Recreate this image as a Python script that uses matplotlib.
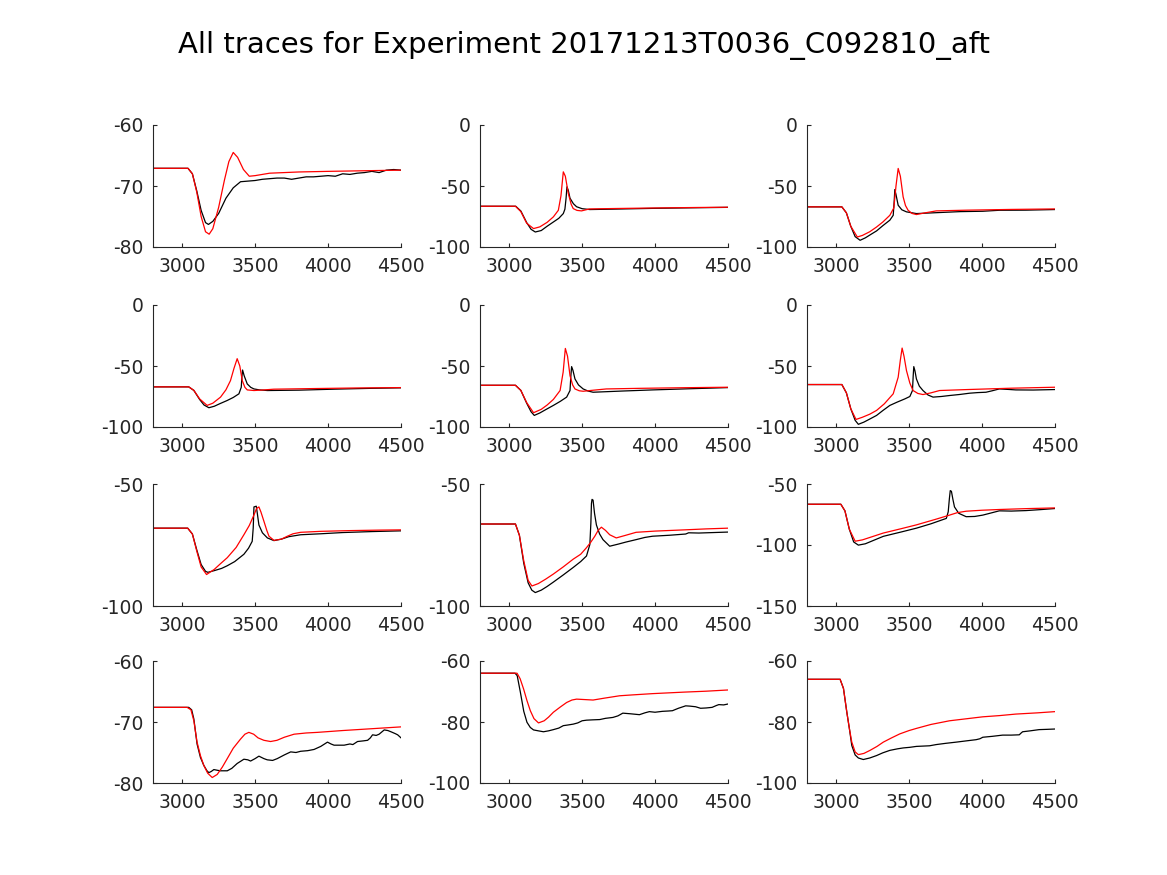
import matplotlib
matplotlib.use("Agg")
import matplotlib.pyplot as plt

title = "All traces for Experiment 20171213T0036_C092810_aft"
xlim = (2800, 4500)
xticks = [3000, 3500, 4000, 4500]

# per-panel y limits and ticks (row by row)
ylims = [(-80, -60), (-100, 0), (-100, 0),
         (-100, 0), (-100, 0), (-100, 0),
         (-100, -50), (-100, -50), (-150, -50),
         (-80, -60), (-100, -60), (-100, -60)]
yticks = [[-80, -70, -60], [-100, -50, 0], [-100, -50, 0],
          [-100, -50, 0], [-100, -50, 0], [-100, -50, 0],
          [-100, -50], [-100, -50], [-150, -100, -50],
          [-80, -70, -60], [-100, -80, -60], [-100, -80, -60]]

# recorded traces (black)
k1_x = [2800, 3040, 3070, 3100, 3130, 3160, 3180, 3210, 3250, 3300, 3350, 3400, 3450, 3500, 3550, 3600, 3650,
        3700, 3750, 3800, 3850, 3900, 4000, 4050, 4100, 4150, 4200, 4250, 4300, 4350, 4400, 4450, 4500]
k1_y = [-67.1, -67.1, -68.0, -70.8, -74.0, -76.0, -76.3, -75.8, -74.5, -72.0, -70.3, -69.3, -69.2, -69.1,
        -68.9, -68.8, -68.7, -68.7, -68.9, -68.7, -68.5, -68.5, -68.3, -68.4, -68.0, -68.1, -67.9, -67.8,
        -67.6, -67.8, -67.4, -67.3, -67.4]
k2_x = [2800, 3045, 3080, 3120, 3150, 3179, 3220, 3260, 3303, 3340, 3371, 3382, 3390, 3396, 3405, 3417, 3440,
        3462, 3500, 3553, 3700, 4000, 4300, 4500]
k2_y = [-66.6, -66.6, -70.5, -80.0, -85.5, -87.7, -86.5, -83.0, -79.5, -76.5, -72.6, -69.0, -60.0, -50.7,
        -53.5, -60.0, -64.5, -67.0, -68.6, -69.3, -69.0, -68.3, -67.8, -67.5]
k3_x = [2800, 3039, 3070, 3100, 3130, 3164, 3200, 3240, 3277, 3320, 3368, 3391, 3398, 3402, 3410, 3425, 3450,
        3482, 3550, 3700, 3850, 4005, 4118, 4300, 4500]
k3_y = [-67.1, -67.1, -72.0, -83.0, -91.5, -94.5, -92.5, -89.5, -86.8, -82.5, -78.0, -74.0, -62.0, -52.9,
        -57.0, -65.8, -69.5, -71.2, -72.6, -71.8, -71.0, -70.7, -69.9, -69.8, -69.3]
k4_x = [2800, 3045, 3080, 3120, 3150, 3183, 3220, 3260, 3308, 3350, 3389, 3405, 3410, 3414, 3425, 3446, 3470,
        3492, 3530, 3584, 3800, 4040, 4300, 4500]
k4_y = [-67.1, -67.1, -70.0, -77.5, -82.0, -84.2, -83.0, -80.8, -78.3, -75.8, -72.8, -67.4, -58.0, -53.3,
        -58.0, -64.7, -67.5, -68.8, -69.6, -70.1, -69.8, -69.0, -68.3, -67.9]
k5_x = [2800, 3043, 3080, 3120, 3150, 3172, 3210, 3250, 3303, 3350, 3394, 3417, 3423, 3428, 3437, 3451, 3475,
        3507, 3540, 3575, 3780, 3983, 4250, 4500]
k5_y = [-65.8, -65.8, -70.0, -80.5, -87.5, -90.5, -88.5, -85.8, -82.3, -79.0, -75.5, -70.1, -58.0, -50.5,
        -53.5, -60.6, -65.5, -68.8, -70.5, -71.5, -70.5, -69.6, -68.6, -67.7]
k6_x = [2800, 3039, 3070, 3100, 3130, 3152, 3190, 3230, 3277, 3320, 3368, 3420, 3470, 3505, 3523, 3528, 3532,
        3540, 3550, 3570, 3595, 3630, 3664, 3720, 3777, 3850, 3914, 3970, 4027, 4070, 4118, 4180, 4232,
        4350, 4500]
k6_y = [-65.2, -65.2, -72.0, -85.0, -94.5, -97.8, -96.0, -93.5, -90.5, -86.5, -82.3, -79.5, -77.0, -75.0,
        -70.1, -58.0, -50.5, -54.0, -60.6, -66.5, -70.1, -73.8, -75.5, -75.0, -74.2, -73.3, -72.3, -71.8,
        -71.5, -70.3, -68.8, -69.2, -69.6, -69.7, -69.3]
k7_x = [2800, 3038, 3070, 3100, 3130, 3160, 3176, 3220, 3270, 3309, 3360, 3423, 3455, 3480, 3487, 3492, 3508,
        3515, 3526, 3550, 3584, 3629, 3680, 3730, 3812, 3950, 4100, 4300, 4500]
k7_y = [-68.1, -68.1, -70.5, -77.0, -83.0, -85.8, -86.2, -85.5, -84.6, -83.5, -81.8, -78.8, -76.3, -73.5,
        -68.0, -59.4, -59.1, -62.0, -66.8, -70.0, -72.1, -73.2, -72.6, -71.6, -70.8, -70.4, -69.9, -69.5,
        -69.2]
k8_x = [2800, 3043, 3070, 3100, 3130, 3155, 3179, 3220, 3260, 3303, 3370, 3439, 3490, 3530, 3553, 3560, 3564,
        3568, 3575, 3585, 3598, 3620, 3643, 3689, 3750, 3800, 3870, 3930, 3983, 4100, 4210, 4230, 4300,
        4400, 4500]
k8_y = [-66.4, -66.4, -71.0, -82.5, -90.5, -93.5, -94.5, -93.5, -92.0, -90.2, -87.3, -84.2, -81.8, -79.5,
        -74.8, -66.0, -58.0, -56.3, -56.6, -62.0, -66.8, -70.5, -72.8, -75.5, -74.6, -73.8, -72.8, -71.9,
        -71.4, -71.0, -70.5, -70.0, -70.1, -69.9, -69.7]
k9_x = [2800, 3032, 3060, 3090, 3120, 3152, 3200, 3323, 3450, 3550, 3650, 3755, 3768, 3776, 3782, 3790, 3800,
        3811, 3840, 3891, 3950, 4005, 4060, 4118, 4200, 4300, 4400, 4500]
k9_y = [-66.6, -66.6, -72.0, -87.0, -97.5, -100.1, -99.0, -92.9, -89.2, -86.2, -82.6, -78.2, -72.8, -62.0,
        -55.4, -56.0, -62.5, -68.8, -74.0, -76.8, -76.6, -75.5, -73.8, -72.0, -72.2, -71.8, -71.0, -70.1]
k10_x = [2800, 3045, 3065, 3080, 3102, 3125, 3148, 3170, 3183, 3200, 3217, 3260, 3309, 3340, 3377, 3423, 3450,
         3469, 3500, 3526, 3560, 3583, 3620, 3652, 3700, 3744, 3780, 3812, 3860, 3904, 3950, 3996, 4020,
         4041, 4080, 4110, 4150, 4170, 4202, 4240, 4271, 4290, 4305, 4330, 4350, 4385, 4410, 4431, 4460,
         4477, 4500]
k10_y = [-67.6, -67.6, -68.0, -69.5, -73.6, -75.8, -77.1, -78.0, -78.3, -78.1, -77.8, -78.0, -78.0, -77.6,
         -76.8, -76.1, -76.2, -76.4, -76.0, -75.6, -76.0, -76.2, -76.3, -76.0, -75.4, -74.9, -75.0, -74.8,
         -74.7, -74.5, -74.0, -73.3, -73.6, -73.8, -73.8, -73.8, -73.6, -73.7, -73.2, -73.1, -73.0, -72.6,
         -72.1, -72.2, -72.0, -71.3, -71.4, -71.6, -71.9, -72.1, -72.6]
k11_x = [2800, 3040, 3055, 3077, 3100, 3122, 3145, 3167, 3200, 3235, 3270, 3303, 3340, 3371, 3400, 3439, 3470,
         3500, 3530, 3570, 3621, 3660, 3711, 3745, 3779, 3830, 3893, 3930, 3961, 4000, 4051, 4090, 4119,
         4160, 4210, 4240, 4278, 4312, 4350, 4391, 4420, 4437, 4470, 4500]
k11_y = [-64.0, -64.0, -64.8, -70.3, -76.5, -80.1, -81.8, -82.6, -82.9, -83.2, -82.9, -82.5, -82.0, -81.2,
         -81.0, -80.7, -80.3, -79.6, -79.4, -79.3, -79.2, -78.8, -78.5, -78.0, -77.1, -77.3, -77.6, -77.0,
         -76.6, -76.8, -76.5, -76.4, -76.3, -75.5, -74.7, -74.8, -75.0, -75.5, -75.4, -75.2, -74.6, -74.3,
         -74.4, -74.1]
k12_x = [2800, 3027, 3050, 3073, 3090, 3107, 3130, 3152, 3186, 3230, 3277, 3320, 3368, 3420, 3460, 3505, 3550,
         3595, 3640, 3686, 3750, 3823, 3890, 3959, 3985, 4005, 4070, 4141, 4200, 4255, 4268, 4278, 4330,
         4391, 4450, 4500]
k12_y = [-66.0, -66.0, -69.0, -76.8, -82.0, -87.7, -90.8, -91.8, -92.3, -91.8, -91.0, -90.1, -89.3, -88.8,
         -88.5, -88.3, -88.0, -87.9, -87.8, -87.4, -87.0, -86.6, -86.2, -85.8, -85.5, -85.0, -84.7, -84.3,
         -84.3, -84.2, -83.6, -83.2, -82.9, -82.5, -82.4, -82.3]

# model traces (red)
r1_x = [2800, 3040, 3070, 3100, 3130, 3160, 3185, 3210, 3250, 3290, 3320, 3350, 3380, 3420, 3460, 3500, 3600,
        3800, 4000, 4250, 4500]
r1_y = [-67.1, -67.1, -68.0, -71.0, -75.0, -77.5, -77.9, -77.0, -73.5, -69.0, -66.0, -64.5, -65.3, -67.3,
        -68.4, -68.3, -67.9, -67.7, -67.6, -67.5, -67.4]
r2_x = [2800, 3043, 3080, 3120, 3167, 3210, 3260, 3303, 3337, 3355, 3371, 3385, 3405, 3425, 3439, 3465, 3496,
        3550, 3700, 4000, 4300, 4500]
r2_y = [-66.6, -66.6, -71.0, -80.5, -84.9, -83.5, -79.8, -75.3, -69.9, -58.0, -38.4, -42.0, -56.0, -65.0,
        -68.5, -70.0, -70.4, -68.8, -68.5, -68.0, -67.6, -67.4]
r3_x = [2800, 3039, 3070, 3100, 3145, 3180, 3230, 3277, 3320, 3368, 3395, 3410, 3425, 3440, 3459, 3475, 3493,
        3520, 3550, 3610, 3686, 3900, 4200, 4500]
r3_y = [-67.1, -67.1, -72.0, -83.0, -91.8, -90.5, -87.5, -83.6, -79.5, -74.0, -68.0, -50.0, -35.6, -42.0,
        -58.9, -66.0, -69.9, -72.5, -73.4, -72.0, -70.4, -69.8, -69.2, -68.8]
r4_x = [2800, 3045, 3080, 3120, 3171, 3210, 3263, 3300, 3331, 3355, 3377, 3395, 3412, 3430, 3446, 3492, 3560,
        3629, 3900, 4200, 4500]
r4_y = [-67.1, -67.1, -70.0, -77.0, -82.3, -80.5, -75.5, -69.5, -62.0, -52.0, -44.0, -50.0, -62.0, -67.5,
        -69.6, -70.1, -69.6, -69.0, -68.5, -68.0, -67.7]
r5_x = [2800, 3043, 3080, 3120, 3167, 3220, 3260, 3303, 3349, 3370, 3385, 3400, 3417, 3435, 3451, 3480, 3507,
        3580, 3666, 3900, 4200, 4500]
r5_y = [-65.8, -65.8, -70.0, -80.0, -88.3, -85.5, -82.0, -77.4, -70.1, -55.0, -35.6, -42.0, -57.9, -65.5,
        -68.8, -70.3, -70.7, -69.8, -68.8, -68.3, -67.8, -67.4]
r6_x = [2800, 3039, 3070, 3100, 3136, 3180, 3230, 3277, 3330, 3391, 3425, 3440, 3452, 3465, 3482, 3505, 3527,
        3560, 3595, 3650, 3709, 3900, 4200, 4500]
r6_y = [-65.2, -65.2, -72.0, -85.0, -93.8, -92.0, -89.5, -86.4, -81.0, -72.8, -59.2, -45.0, -35.3, -42.0,
        -53.8, -64.0, -70.1, -72.5, -73.4, -72.0, -70.1, -69.3, -68.2, -67.4]
r7_x = [2800, 3038, 3070, 3100, 3130, 3167, 3220, 3260, 3309, 3370, 3423, 3460, 3492, 3510, 3526, 3540, 3561,
        3580, 3595, 3629, 3680, 3721, 3760, 3812, 3950, 4150, 4350, 4500]
r7_y = [-68.1, -68.1, -70.5, -77.5, -84.0, -87.1, -85.0, -82.8, -80.2, -76.0, -70.8, -67.0, -62.7, -60.0,
        -59.4, -61.5, -65.4, -69.0, -71.4, -73.1, -72.6, -71.4, -70.4, -69.8, -69.4, -69.1, -68.9, -68.8]
r8_x = [2800, 3043, 3070, 3100, 3130, 3156, 3200, 3250, 3303, 3370, 3439, 3490, 3530, 3560, 3587, 3610, 3632,
        3660, 3689, 3734, 3800, 3870, 4000, 4200, 4350, 4500]
r8_y = [-66.4, -66.4, -71.0, -81.5, -89.5, -91.8, -90.8, -89.0, -86.9, -84.0, -80.8, -78.8, -76.1, -73.8,
        -71.4, -69.0, -67.7, -69.0, -70.8, -72.1, -71.0, -69.8, -69.3, -68.8, -68.4, -68.1]
r9_x = [2800, 3032, 3060, 3090, 3130, 3180, 3323, 3450, 3550, 3680, 3777, 3830, 3891, 4000, 4118, 4300, 4500]
r9_y = [-66.6, -66.6, -72.0, -87.0, -96.9, -95.8, -90.2, -86.5, -83.5, -79.0, -75.5, -73.5, -72.3, -71.5,
        -70.9, -70.2, -69.6]
r10_x = [2800, 3034, 3060, 3080, 3102, 3125, 3148, 3175, 3206, 3240, 3275, 3309, 3350, 3400, 3430, 3457, 3490,
         3520, 3560, 3606, 3650, 3700, 3767, 3850, 3927, 4100, 4300, 4500]
r10_y = [-67.6, -67.6, -68.0, -69.8, -73.3, -75.5, -77.1, -78.4, -79.1, -78.6, -77.4, -76.0, -74.3, -72.8,
         -72.0, -71.7, -72.0, -72.6, -73.0, -73.2, -73.0, -72.5, -72.0, -71.8, -71.7, -71.4, -71.1, -70.8]
r11_x = [2800, 3054, 3075, 3099, 3122, 3145, 3170, 3201, 3240, 3270, 3303, 3350, 3394, 3430, 3462, 3500, 3575,
         3650, 3757, 3850, 3983, 4200, 4350, 4500]
r11_y = [-64.0, -64.0, -65.8, -69.2, -73.0, -76.3, -78.9, -80.3, -79.6, -78.4, -76.8, -75.1, -73.6, -72.8,
         -72.5, -72.6, -72.8, -72.2, -71.4, -71.1, -70.7, -70.2, -69.9, -69.5]
r12_x = [2800, 3027, 3050, 3073, 3090, 3107, 3130, 3152, 3190, 3232, 3280, 3323, 3380, 3436, 3500, 3550, 3650,
         3777, 3900, 4005, 4120, 4232, 4380, 4500]
r12_y = [-66.0, -66.0, -69.0, -76.8, -82.0, -86.6, -89.8, -90.7, -90.3, -89.3, -88.0, -86.6, -85.2, -83.9,
         -82.8, -82.1, -80.8, -79.6, -78.9, -78.3, -77.9, -77.4, -77.0, -76.6]

black_x = [k1_x, k2_x, k3_x, k4_x, k5_x, k6_x, k7_x, k8_x, k9_x, k10_x, k11_x, k12_x]
black_y = [k1_y, k2_y, k3_y, k4_y, k5_y, k6_y, k7_y, k8_y, k9_y, k10_y, k11_y, k12_y]
red_x = [r1_x, r2_x, r3_x, r4_x, r5_x, r6_x, r7_x, r8_x, r9_x, r10_x, r11_x, r12_x]
red_y = [r1_y, r2_y, r3_y, r4_y, r5_y, r6_y, r7_y, r8_y, r9_y, r10_y, r11_y, r12_y]

W, H = 1167, 875
fig = plt.figure(figsize=(W / 100, H / 100), dpi=100)
fig.text(0.5, 1 - 45 / H, title, ha="center", va="center", fontsize=21, color="black")

lefts = [153, 480, 807]
bottoms = [247, 427, 606, 783]
aw, ah = 248, 122
grey = "#262626"

for i in range(12):
    r, c = divmod(i, 3)
    ax = fig.add_axes([lefts[c] / W, 1 - bottoms[r] / H, aw / W, ah / H])
    ax.plot(black_x[i], black_y[i], color="black", lw=0.9)
    ax.plot(red_x[i], red_y[i], color="red", lw=0.9)
    ax.set_xlim(*xlim)
    ax.set_ylim(*ylims[i])
    ax.set_xticks(xticks)
    ax.set_yticks(yticks[i])
    ax.set_yticklabels([str(v) for v in yticks[i]])
    ax.spines["top"].set_visible(False)
    ax.spines["right"].set_visible(False)
    for s in ("left", "bottom"):
        ax.spines[s].set_color(grey)
        ax.spines[s].set_linewidth(0.8)
    ax.tick_params(direction="in", length=3, width=0.8, color=grey, labelcolor=grey,
                   labelsize=13.5, pad=7)

fig.savefig("out.png", dpi=100)
